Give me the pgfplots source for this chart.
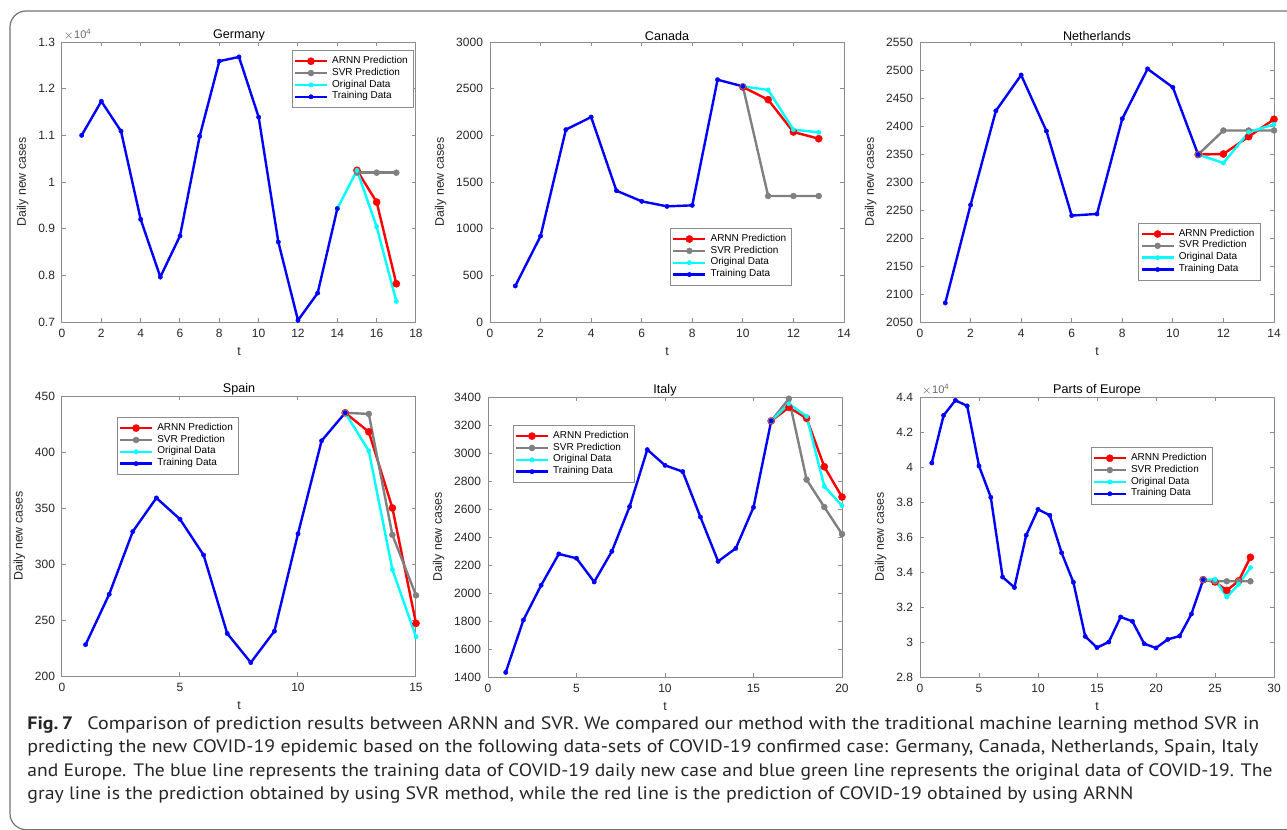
\documentclass[border=0pt]{standalone}
\usepackage{pgfplots}
\pgfplotsset{compat=1.18}
\usepackage{fontspec}
\setmainfont{Liberation Sans}
\newfontfamily\capfont{PT Sans}

\definecolor{mblue}{rgb}{0,0,1}
\definecolor{mcyan}{rgb}{0,1,1}
\definecolor{mgray}{rgb}{0.5,0.5,0.5}
\definecolor{mred}{rgb}{1,0,0}
\definecolor{framegray}{gray}{0.45}

\pgfplotsset{
  panel/.style={
    scale only axis, width=177pt, height=140pt,
    clip=false,
    axis line style={black!45, line width=0.5pt},
    tick style={black!45, line width=0.5pt},
    tick align=inside, major tick length=2pt,
    tick label style={font=\fontsize{6}{7}\selectfont, text=black!85},
    /pgf/number format/assume math mode=true,
    /pgf/number format/1000 sep={},
    title style={font=\fontsize{6.3}{7}\selectfont, yshift=-9pt},
    xlabel={t}, ylabel={Daily new cases},
    label style={font=\fontsize{6.2}{7}\selectfont, text=black!85},
    xlabel style={yshift=2pt},
    ylabel style={yshift=-2pt},
    legend cell align=left,
    legend style={font=\fontsize{5}{6}\selectfont, draw=black!45, line width=0.4pt,
      fill=white, inner sep=0.8pt, row sep=-3.2pt, anchor=north west},
    legend image code/.code={\draw[line width=1.2pt, mark repeat=2,mark phase=2]
      plot coordinates {(0pt,0pt) (8pt,0pt) (16pt,0pt)};},
  },
  sci4/.style={
    scaled y ticks=base 10:-4,
    ytick scale label code/.code={$\times$10\textsuperscript{##1}},
    every y tick scale label/.style={at={(rel axis cs:0,1)}, anchor=south west,
      inner sep=0.5pt, font=\fontsize{5.5}{6}\selectfont, text=black!60},
  },
  arnn/.style={mred, line width=1.2pt, mark=*, mark size=1.8pt, mark options={line width=0.2pt}},
  svr/.style={mgray, line width=1.2pt, mark=*, mark size=1.5pt, mark options={line width=0.2pt}},
  orig/.style={mcyan, line width=1.2pt, mark=*, mark size=1.1pt, mark options={line width=0.2pt}},
  train/.style={mblue, line width=1.2pt, mark=*, mark size=1.1pt, mark options={line width=0.2pt}},
}

\begin{document}
\begin{tikzpicture}
\useasboundingbox (0,0) rectangle (643.5pt,-415pt);
\draw[framegray, line width=0.6pt, rounded corners=8pt] (5pt,-5.5pt) rectangle (680pt,-414.8pt);

% Germany
\begin{axis}[panel, sci4, at={(31pt,-161pt)}, anchor=south west, title={Germany},
  xmin=0, xmax=18, xtick distance=2, ymin=7000, ymax=13000, ytick distance=1000,
  legend style={at={(0.649,0.971)}}]
\addplot[arnn] coordinates {(15,10250) (16,9570) (17,7820)};
\addplot[svr] coordinates {(15,10200) (16,10200) (17,10200)};
\addplot[orig] coordinates {(14,9430) (15,10250) (16,9040) (17,7443)};
\addplot[train] coordinates {(1,11000) (2,11730) (3,11090) (4,9200) (5,7965) (6,8845) (7,10980)
  (8,12590) (9,12680) (10,11390) (11,8715) (12,7036) (13,7620) (14,9430)};
\legend{ARNN Prediction, SVR Prediction, Original Data, Training Data}
\end{axis}

% Canada
\begin{axis}[panel, at={(245pt,-161pt)}, anchor=south west, title={Canada},
  xmin=0, xmax=14, xtick distance=2, ymin=0, ymax=3000, ytick distance=500,
  legend style={at={(0.509,0.336)}}]
\addplot[arnn] coordinates {(10,2518) (11,2382) (12,2036) (13,1964)};
\addplot[svr] coordinates {(10,2525) (11,1350) (12,1350) (13,1350)};
\addplot[orig] coordinates {(10,2525) (11,2486) (12,2061) (13,2032)};
\addplot[train] coordinates {(1,386) (2,921) (3,2061) (4,2196) (5,1407) (6,1293) (7,1239)
  (8,1250) (9,2596) (10,2525)};
\legend{ARNN Prediction, SVR Prediction, Original Data, Training Data}
\end{axis}

% Netherlands
\begin{axis}[panel, at={(460pt,-161pt)}, anchor=south west, title={Netherlands},
  xmin=0, xmax=14, xtick distance=2, ymin=2050, ymax=2550, ytick distance=50,
  legend style={at={(0.617,0.354)}}]
\addplot[arnn] coordinates {(11,2349) (12,2350) (13,2381) (14,2412)};
\addplot[svr] coordinates {(11,2349) (12,2392) (13,2392) (14,2392)};
\addplot[orig] coordinates {(11,2349) (12,2334) (13,2389) (14,2403)};
\addplot[train] coordinates {(1,2084) (2,2259) (3,2427) (4,2491) (5,2391) (6,2240) (7,2243)
  (8,2413) (9,2502) (10,2469) (11,2349)};
\legend{ARNN Prediction, SVR Prediction, Original Data, Training Data}
\end{axis}

% Spain
\begin{axis}[panel, at={(31pt,-338pt)}, anchor=south west, title={Spain},
  xmin=0, xmax=15, xtick distance=5, ymin=200, ymax=450, ytick distance=50,
  legend style={at={(0.155,0.925)}}]
\addplot[arnn] coordinates {(12,435) (13,418) (14,350) (15,247)};
\addplot[svr] coordinates {(12,435) (13,434) (14,326) (15,272)};
\addplot[orig] coordinates {(12,435) (13,401) (14,295) (15,235)};
\addplot[train] coordinates {(1,228) (2,273) (3,329) (4,359) (5,340) (6,308) (7,238)
  (8,212) (9,240) (10,327) (11,410) (12,435)};
\legend{ARNN Prediction, SVR Prediction, Original Data, Training Data}
\end{axis}

% Italy
\begin{axis}[panel, at={(244pt,-338.5pt)}, anchor=south west, title={Italy},
  xmin=0, xmax=20, xtick distance=5, ymin=1400, ymax=3400, ytick distance=200,
  legend style={at={(0.070,0.900)}}]
\addplot[arnn] coordinates {(16,3229) (17,3326) (18,3248) (19,2902) (20,2686)};
\addplot[svr] coordinates {(16,3229) (17,3388) (18,2810) (19,2614) (20,2421)};
\addplot[orig] coordinates {(16,3229) (17,3352) (18,3262) (19,2762) (20,2624)};
\addplot[train] coordinates {(1,1433) (2,1807) (3,2055) (4,2279) (5,2248) (6,2079) (7,2298)
  (8,2617) (9,3024) (10,2912) (11,2867) (12,2543) (13,2226) (14,2319) (15,2612) (16,3229)};
\legend{ARNN Prediction, SVR Prediction, Original Data, Training Data}
\end{axis}

% Parts of Europe
\begin{axis}[panel, sci4, at={(460pt,-338.5pt)}, anchor=south west, title={Parts of Europe},
  xmin=0, xmax=30, xtick distance=5, ymin=28000, ymax=44000, ytick distance=2000,
  legend style={at={(0.482,0.821)}}]
\addplot[arnn] coordinates {(24,33560) (25,33430) (26,32950) (27,33490) (28,34840)};
\addplot[svr] coordinates {(24,33560) (25,33470) (26,33470) (27,33470) (28,33470)};
\addplot[orig] coordinates {(24,33560) (25,33580) (26,32570) (27,33300) (28,34250)};
\addplot[train] coordinates {(1,40230) (2,42950) (3,43810) (4,43490) (5,40060) (6,38270)
  (7,33710) (8,33120) (9,36100) (10,37580) (11,37240) (12,35100) (13,33410) (14,30320)
  (15,29680) (16,30000) (17,31430) (18,31180) (19,29900) (20,29660) (21,30150) (22,30340)
  (23,31600) (24,33560)};
\legend{ARNN Prediction, SVR Prediction, Original Data, Training Data}
\end{axis}

% caption
\begin{scope}[every node/.style={anchor=base west, inner sep=0pt, text=black!85,
  font=\capfont\fontsize{9}{11}\selectfont}]
\node at (13.5pt,-364.5pt) {\resizebox{616pt}{\height}{\textbf{Fig.\,7}\hspace{4pt} Comparison of prediction results between ARNN and SVR. We compared our method with the traditional machine learning method SVR in}};
\node at (13.5pt,-376.2pt) {\resizebox{615.5pt}{\height}{predicting the new COVID-19 epidemic based on the following data-sets of COVID-19 confirmed case: Germany, Canada, Netherlands, Spain, Italy}};
\node at (13.5pt,-388pt) {\resizebox{622.5pt}{\height}{and Europe. The blue line represents the training data of COVID-19 daily new case and blue green line represents the original data of COVID-19. The}};
\node at (13.5pt,-399.8pt) {\resizebox{553pt}{\height}{gray line is the prediction obtained by using SVR method, while the red line is the prediction of COVID-19 obtained by using ARNN}};
\end{scope}
\end{tikzpicture}
\end{document}
